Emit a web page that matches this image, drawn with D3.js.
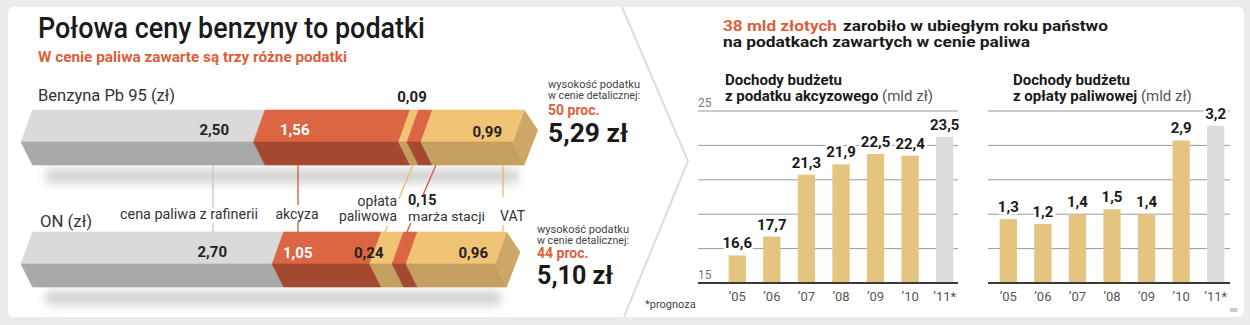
<!DOCTYPE html>
<html>
<head>
<meta charset="utf-8">
<script src="https://cdn.jsdelivr.net/npm/d3@7"></script>
<style>
  body { margin: 0; background: #fff; }
  text { font-family: Roboto, "Open Sans", sans-serif; }
</style>
</head>
<body>
<div id="chart"></div>
<script>

// --- dane ---
var pb95Parts = [2.50, 1.56, 0.09, 0.15, 0.99];
var onParts = [2.70, 1.05, 0.24, 0.15, 0.96];
var partNames = ["cena paliwa z rafinerii", "akcyza", "opłata paliwowa", "marża stacji", "VAT"];
var partKinds = ["base", "tax", "fee", "tax", "fee"];
var fuelNames = ["Benzyna Pb 95 (zł)", "ON (zł)"];
var fuelTotals = ["5,29 zł", "5,10 zł"];
var fuelTaxShare = ["50 proc.", "44 proc."];

var years = ["’05", "’06", "’07", "’08", "’09", "’10", "’11*"];
var akcyza = [16.6, 17.7, 21.3, 21.9, 22.5, 22.4, 23.5];
var oplata = [1.3, 1.2, 1.4, 1.5, 1.4, 2.9, 3.2];
var akcyzaTicks = [15, 17, 19, 21, 23, 25];
var akcyzaLabels = [15, 25];
var oplataTicks = [0, 0.7, 1.4, 2.1, 2.8, 3.5];

var W = 1250, H = 325;
var fmt2 = d => d3.format(".2f")(d).replace(".", ",");
var fmt1 = d => d3.format(".1f")(d).replace(".", ",");

var svg = d3.select("#chart").append("svg")
    .attr("width", W)
    .attr("height", H);

var defs = svg.append("defs");
defs.append("filter").attr("id", "blur")
    .attr("x", "-20%").attr("y", "-200%").attr("width", "140%").attr("height", "500%")
    .append("feGaussianBlur").attr("stdDeviation", 5);

function addText(g, x, y, str, size, weight, fill, anchor, len) {
    var t = g.append("text")
        .attr("x", x)
        .attr("y", y)
        .attr("font-size", size)
        .attr("font-weight", weight || 400)
        .attr("fill", fill || "#222")
        .attr("text-anchor", anchor || "start")
        .text(str);
    if (len) t.attr("textLength", len).attr("lengthAdjust", "spacingAndGlyphs");
    return t;
}

// ramka
svg.append("rect").attr("width", W).attr("height", H).attr("fill", "#ececec");
svg.append("rect").attr("x", 8).attr("y", 7).attr("width", 1236).attr("height", 310)
    .attr("rx", 6).attr("fill", "#fff");
svg.append("path").attr("d", "M622,7 L688,161 L624,317")
    .attr("fill", "none").attr("stroke", "#dcdcdc").attr("stroke-width", 2);

// ================= lewa część =================
var left = svg.append("g");

addText(left, 38, 38, "Połowa ceny benzyny to podatki", 30, 500, "#1a1a1a", "start", 387);
addText(left, 38, 62, "W cenie paliwa zawarte są trzy różne podatki", 14, 700, "#dc5f3b", "start", 309);

var colors = {
    base: { top: "#dadada", front: "#a9a9a9", line: "#c4c4c4" },
    tax: { top: "#dc6544", front: "#a4482f", line: "#d45a38" },
    fee: { top: "#f1c375", front: "#c49f5f", line: "#e9bb68" }
};
var endFace = "#cda767";

var fuelX = d3.scaleLinear().domain([0, d3.sum(pb95Parts)]).range([21, 513]);
var skew = 11.5, tipDx = 13.5, tipDy = 20;

var bars = [
    { parts: pb95Parts, top: 110, mid: 142, bot: 165 },
    { parts: onParts, top: 232, mid: 264, bot: 287 }
];

// etykiety w pasku (układ)
var barLabels = [
    [
        { i: 0, x: 229, y: 135, anchor: "end", fill: "#222" },
        { i: 1, x: 280, y: 135, anchor: "start", fill: "#fff" },
        { i: 2, x: 412, y: 102, anchor: "middle", fill: "#222" },
        { i: 4, x: 502, y: 137, anchor: "end", fill: "#222" }
    ],
    [
        { i: 0, x: 227, y: 257, anchor: "end", fill: "#222" },
        { i: 1, x: 283, y: 258, anchor: "start", fill: "#fff" },
        { i: 2, x: 354, y: 258, anchor: "start", fill: "#222" },
        { i: 4, x: 488, y: 258, anchor: "end", fill: "#222" }
    ]
];

var line = d3.line();

bars.forEach(function(b, bi) {
    var ends = Array.from(d3.cumsum(b.parts));
    var segs = b.parts.map((v, i) => ({ a: i ? ends[i - 1] : 0, b: ends[i], kind: partKinds[i] }));

    // cień
    left.append("rect")
        .attr("x", fuelX(0) + 25).attr("y", b.bot + 4)
        .attr("width", fuelX(ends[ends.length - 1]) - fuelX(0) - 20).attr("height", 14)
        .attr("fill", "#d2d2d2")
        .attr("filter", "url(#blur)");

    var g = left.append("g");

    g.selectAll(".topFace").data(segs).enter().append("path")
        .attr("d", s => line([[fuelX(s.a) + skew, b.top], [fuelX(s.b) + skew, b.top], [fuelX(s.b), b.mid], [fuelX(s.a), b.mid]]) + "Z")
        .attr("fill", s => colors[s.kind].top)
        .attr("stroke", s => colors[s.kind].top)
        .attr("stroke-width", 0.6);

    g.selectAll(".frontFace").data(segs).enter().append("path")
        .attr("d", s => line([[fuelX(s.a), b.mid], [fuelX(s.b), b.mid], [fuelX(s.b) + skew, b.bot], [fuelX(s.a) + skew, b.bot]]) + "Z")
        .attr("fill", s => colors[s.kind].front)
        .attr("stroke", s => colors[s.kind].front)
        .attr("stroke-width", 0.6);

    var xe = fuelX(ends[ends.length - 1]);
    g.append("path")
        .attr("d", line([[xe + skew, b.top], [xe + skew + tipDx, b.top + tipDy], [xe + skew, b.bot], [xe, b.mid]]) + "Z")
        .attr("fill", endFace);

    barLabels[bi].forEach(function(l) {
        addText(g, l.x, l.y, fmt2(b.parts[l.i]), 15, 700, l.fill, l.anchor);
    });

    // opis po prawej
    var ix = bi ? 537 : 548, iy = bi ? 233 : 88;
    addText(left, ix, iy, "wysokość podatku", 10, 400, "#444", "start", 92);
    addText(left, ix, iy + 11, "w cenie detalicznej:", 10, 400, "#444", "start", 92);
    addText(left, ix, iy + (bi ? 25 : 27), fuelTaxShare[bi], 14, 700, "#dc5f3b");
    addText(left, ix, iy + (bi ? 51 : 54), fuelTotals[bi], 26, 700, "#1a1a1a", "start", bi ? 76 : 80);
});

addText(left, 38, 101, fuelNames[0], 16, 400, "#333", "start", 137);
addText(left, 40, 227, fuelNames[1], 16, 400, "#333", "start", 52);

// linie odniesienia
var leaders = [
    { i: 0, x1: 213, x2: 213, ya: 208, yb: 223 },
    { i: 1, x1: 298, x2: 298, ya: 205, yb: 222 },
    { i: 2, x1: 413, x2: 385, ya: 199, yb: 226 },
    { i: 3, x1: 436, x2: 407, ya: 196, yb: 223 },
    { i: 4, x1: 503, x2: 503, ya: 197, yb: 225 }
];
var y1 = bars[0].bot, y2 = bars[1].top;
leaders.forEach(function(l) {
    var xs = d3.scaleLinear().domain([y1, y2]).range([l.x1, l.x2]);
    [[y1, l.ya], [l.yb, y2]].forEach(function(p) {
        left.append("line")
            .attr("x1", xs(p[0])).attr("y1", p[0])
            .attr("x2", xs(p[1])).attr("y2", p[1])
            .attr("stroke", colors[partKinds[l.i]].line)
            .attr("stroke-width", 1.3);
    });
});

addText(left, 189, 219, partNames[0], 14, 400, "#333", "middle", 138);
addText(left, 297, 219, partNames[1], 14, 400, "#333", "middle", 43);
addText(left, 397, 206, partNames[2].split(" ")[0], 14, 400, "#333", "end");
addText(left, 397, 221, partNames[2].split(" ")[1], 14, 400, "#333", "end", 58);
addText(left, 408, 205, fmt2(onParts[3]), 14.5, 700, "#222");
addText(left, 408, 221, partNames[3], 13.5, 400, "#333", "start", 77);
addText(left, 500, 221, partNames[4], 14, 400, "#333", "start", 25);

// ================= prawa część =================
var right = svg.append("g");

addText(right, 723, 31, "38 mld złotych", 15.5, 700, "#dc5f3b", "start", 114);
addText(right, 843, 31, "zarobiło w ubiegłym roku państwo", 15.5, 700, "#1a1a1a", "start", 265);
addText(right, 723, 47, "na podatkach zawartych w cenie paliwa", 15.5, 700, "#1a1a1a", "start", 307);

function barChart(cfg) {
    var g = right.append("g");

    addText(g, cfg.titleX, 85, "Dochody budżetu", 15, 700, "#1a1a1a");
    var t2 = g.append("text").attr("x", cfg.titleX).attr("y", 101).attr("font-size", 15).attr("fill", "#1a1a1a");
    t2.append("tspan").attr("font-weight", 700).text(cfg.sub);
    t2.append("tspan").attr("fill", "#555").text(" (mld zł)");

    var x = d3.scaleBand().domain(years).range(cfg.xRange).paddingInner(0.5).paddingOuter(0.25);
    var y = d3.scaleLinear().domain(cfg.domain).range([283, 111]);

    g.selectAll(".grid").data(cfg.ticks.slice(1)).enter().append("line")
        .attr("x1", cfg.gridX[0]).attr("x2", cfg.gridX[1])
        .attr("y1", d => y(d)).attr("y2", d => y(d))
        .attr("stroke", "#9a9a9a").attr("stroke-width", 1);

    if (cfg.tickLabels) {
        g.selectAll(".tl").data(cfg.tickLabels).enter().append("text")
            .attr("x", cfg.gridX[0])
            .attr("y", d => y(d) - 4)
            .attr("font-size", 12)
            .attr("fill", "#777")
            .text(d => d);
    }

    g.selectAll(".bar").data(cfg.values).enter().append("rect")
        .attr("x", (d, i) => x(years[i]))
        .attr("width", x.bandwidth())
        .attr("y", d => y(d))
        .attr("height", d => y(cfg.domain[0]) - y(d))
        .attr("fill", (d, i) => i === years.length - 1 ? "#dcdcdc" : "#e5c480");

    g.append("line")
        .attr("x1", cfg.gridX[0]).attr("x2", cfg.gridX[1])
        .attr("y1", y(cfg.domain[0])).attr("y2", y(cfg.domain[0]))
        .attr("stroke", "#3a3a3a").attr("stroke-width", 2);

    g.selectAll(".val").data(cfg.values).enter().append("text")
        .attr("x", (d, i) => x(years[i]) + x.bandwidth() / 2)
        .attr("y", d => y(d) - 7)
        .attr("text-anchor", "middle")
        .attr("font-size", 15)
        .attr("font-weight", 700)
        .attr("fill", "#1a1a1a")
        .attr("stroke", "#fff")
        .attr("stroke-width", 5)
        .attr("paint-order", "stroke")
        .text(d => fmt1(d));

    g.selectAll(".yr").data(years).enter().append("text")
        .attr("x", d => x(d) + x.bandwidth() / 2)
        .attr("y", 301)
        .attr("text-anchor", "middle")
        .attr("font-size", 13)
        .attr("fill", "#555")
        .text(d => d);
}

barChart({
    titleX: 725, sub: "z podatku akcyzowego",
    values: akcyza, domain: [15, 25], ticks: akcyzaTicks, tickLabels: akcyzaLabels,
    xRange: [720, 962], gridX: [698, 958]
});

barChart({
    titleX: 1013, sub: "z opłaty paliwowej",
    values: oplata, domain: [0, 3.5], ticks: oplataTicks, tickLabels: null,
    xRange: [991, 1233], gridX: [988, 1230]
});

addText(svg, 645, 308, "*prognoza", 11, 400, "#444");
addText(svg, 1230, 312, "RM", 5, 400, "#888");

</script>
</body>
</html>
